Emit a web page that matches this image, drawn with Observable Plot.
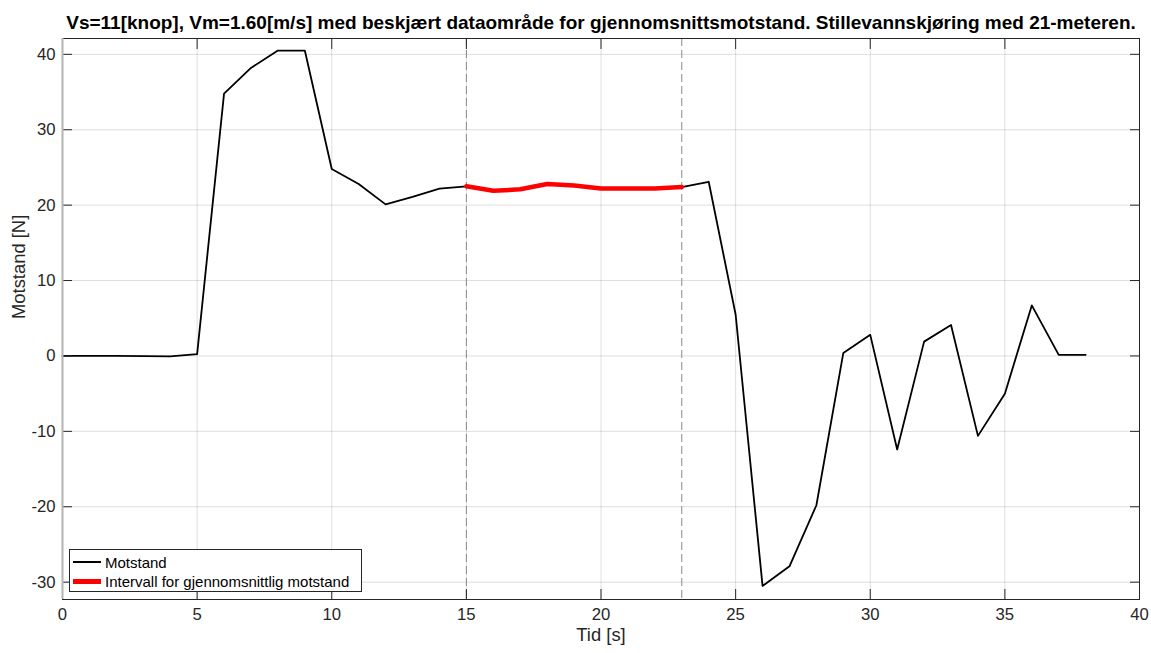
<!DOCTYPE html>
<html>
<head>
<meta charset="utf-8">
<script src="https://cdn.jsdelivr.net/npm/d3@7"></script>
<script src="https://cdn.jsdelivr.net/npm/@observablehq/plot@0.6"></script>
<style>
  html, body { margin: 0; padding: 0; background: #fff; }
  #wrap { position: relative; width: 1151px; height: 653px; font-family: "Liberation Sans", Arial, sans-serif; }
  #legend { position: absolute; left: 69px; top: 549px; width: 291px; height: 41px; border: 1px solid #262626; background: #fff; box-sizing: content-box; }
  .row { position: absolute; left: 0; height: 20px; display: flex; align-items: center; font-size: 15px; color: #000; white-space: nowrap; }
  .sw { display: inline-block; width: 28px; margin-left: 3px; margin-right: 4px; }
</style>
</head>
<body>
<div id="wrap"></div>
<script>
const titleText = "Vs=11[knop], Vm=1.60[m/s] med beskjært dataområde for gjennomsnittsmotstand. Stillevannskjøring med 21-meteren.";
const xLabel = "Tid [s]";
const yLabel = "Motstand [N]";
const legendLabels = ["Motstand", "Intervall for gjennomsnittlig motstand"];

const time = [0,1,2,3,4,5,6,7,8,9,10,11,12,13,14,15,16,17,18,19,20,21,22,23,24,25,26,27,28,29,30,31,32,33,34,35,36,37,38];
const motstand = [0,0.02,0.02,-0.03,-0.05,0.25,34.8,38.2,40.5,40.5,24.8,22.8,20.1,21.1,22.2,22.5,21.9,22.1,22.8,22.6,22.2,22.2,22.2,22.4,23.1,5.5,-30.5,-27.9,-19.8,0.4,2.8,-12.4,1.9,4.1,-10.6,-5.0,6.7,0.15,0.15];
const intervalStart = 15;
const intervalEnd = 23;
const xTicks = [0,5,10,15,20,25,30,35,40];
const yTicks = [-30,-20,-10,0,10,20,30,40];
const xDomain = [0, 40];
const yDomain = [-32.3, 42.1];

const data = time.map((t, i) => ({t, v: motstand[i]}));
const interval = data.filter(d => d.t >= intervalStart && d.t <= intervalEnd);

const axisColor = "#262626";
const fmt = d => String(d);

const chart = Plot.plot({
  width: 1151,
  height: 653,
  marginLeft: 62,
  marginRight: 12,
  marginTop: 38,
  marginBottom: 54,
  style: {fontFamily: "Liberation Sans, Arial, sans-serif", fontSize: "16.7px", color: axisColor, background: "#fff"},
  x: {domain: xDomain, label: null},
  y: {domain: yDomain, label: null},
  marks: [
    Plot.gridX(xTicks, {stroke: axisColor, strokeOpacity: 0.15, strokeWidth: 1}),
    Plot.gridY(yTicks, {stroke: axisColor, strokeOpacity: 0.15, strokeWidth: 1}),
    Plot.ruleX([intervalStart, intervalEnd], {stroke: "#8a8a8a", strokeWidth: 1, strokeDasharray: "8,4"}),
    Plot.line(data, {x: "t", y: "v", stroke: "#000", strokeWidth: 1.8}),
    Plot.line(interval, {x: "t", y: "v", stroke: "#ff0000", strokeWidth: 4.5}),
    Plot.frame({stroke: axisColor, strokeWidth: 1}),
    Plot.axisX(xTicks, {anchor: "bottom", tickSize: 0, tickPadding: 9, tickFormat: fmt, fill: axisColor, fontSize: 16.7}),
    Plot.axisX(xTicks, {anchor: "bottom", tickSize: 10, dy: -10, tickFormat: () => "", stroke: axisColor}),
    Plot.axisX(xTicks, {anchor: "top", tickSize: 10, dy: 10, tickFormat: () => "", stroke: axisColor}),
    Plot.axisY(yTicks, {anchor: "left", tickSize: 0, tickPadding: 7, tickFormat: fmt, fill: axisColor, fontSize: 16.7}),
    Plot.axisY(yTicks, {anchor: "left", tickSize: 10, dx: 10, tickFormat: () => "", stroke: axisColor}),
    Plot.axisY(yTicks, {anchor: "right", tickSize: 10, dx: -10, tickFormat: () => "", stroke: axisColor}),
    Plot.ruleX([xDomain[0]], {stroke: "#b4b4b4", strokeWidth: 2}),
    Plot.text([xLabel], {frameAnchor: "bottom", dy: 41, fontSize: 18.4, fill: axisColor, text: d => d}),
    Plot.text([yLabel], {frameAnchor: "left", dx: -43, rotate: -90, fontSize: 18.4, fill: axisColor, text: d => d}),
    Plot.text([titleText], {frameAnchor: "top", dy: -10, lineAnchor: "bottom", fontSize: 19, fontWeight: "bold", fill: "#000", text: d => d})
  ]
});

const wrap = document.getElementById("wrap");
wrap.appendChild(chart);

const legend = document.createElement("div");
legend.id = "legend";
const colors = ["#000", "#ff0000"];
const widths = [2, 5];
legendLabels.forEach((lab, i) => {
  const row = document.createElement("div");
  row.className = "row";
  row.style.top = (i === 0 ? 2 : 21) + "px";
  const sw = document.createElement("span");
  sw.className = "sw";
  sw.style.borderTop = widths[i] + "px solid " + colors[i];
  row.appendChild(sw);
  const tx = document.createElement("span");
  tx.textContent = lab;
  row.appendChild(tx);
  legend.appendChild(row);
});
wrap.appendChild(legend);
</script>
</body>
</html>
